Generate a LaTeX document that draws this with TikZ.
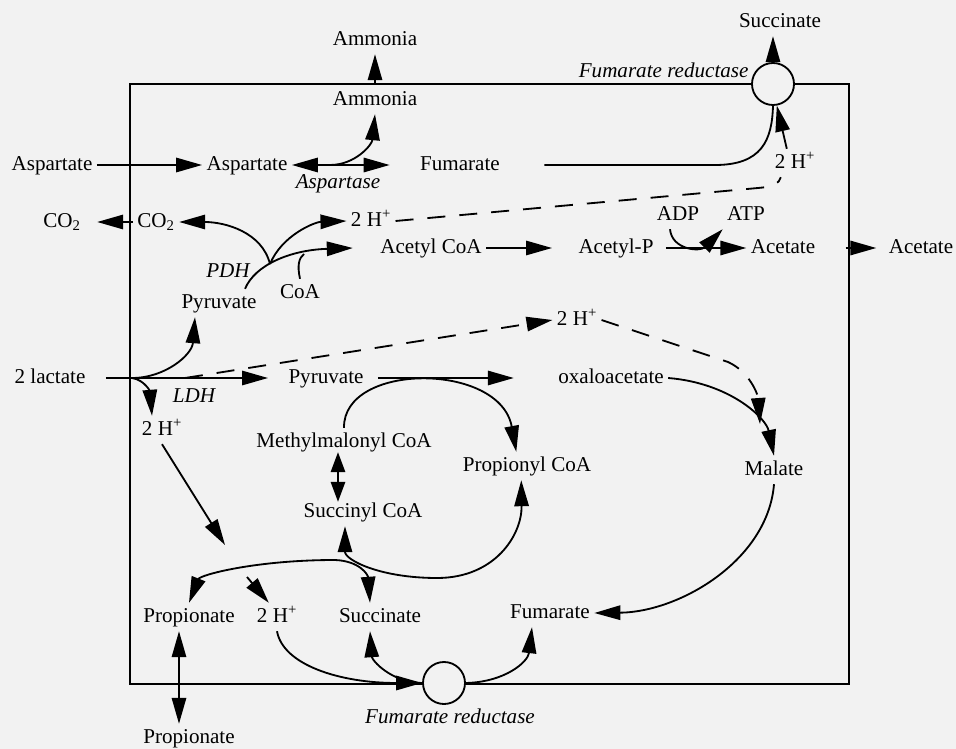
\documentclass[tikz,border=0pt]{standalone}
\usepackage{fontspec}
\setmainfont{Liberation Serif}
\usetikzlibrary{positioning,arrows.meta}

\begin{document}
\begin{tikzpicture}[
      x=0.025cm, y=-0.025cm,
      lbl/.style={inner sep=3pt, text height=10.5pt, text depth=3.3pt, font=\fontsize{15}{18}\selectfont},
      enz/.style={lbl, font=\fontsize{15}{18}\selectfont\itshape},
      link/.style={line width=1.3pt},
      arrow/.style={link, -{Triangle[length=6.5mm,width=3.6mm]}},
      both/.style={link, {Triangle[length=6.5mm,width=3.6mm]}-{Triangle[length=6.5mm,width=3.6mm]}},
      pair/.style={link, {Triangle[length=5mm,width=3.6mm]}-{Triangle[length=5mm,width=3.6mm]}},
      dashline/.style={dash pattern=on 0.45cm off 0.35cm},
      pore/.style={draw, circle, fill=black!5, line width=1.3pt, minimum size=1.05cm, inner sep=0pt}
    ]
      \fill[black!5] (0,0) rectangle (956,749);
      \useasboundingbox (0,0) rectangle (956,749);
      \draw[link] (130,84) coordinate (boxNW) rectangle (849,684) coordinate (boxSE);

      \node[lbl] (ammOut) at (375,40) {Ammonia};
      \node[lbl] (ammIn) at (375,100) {Ammonia};
      \node[lbl] (succOut) at (780,22) {Succinate};
      \node[pore] (frdTop) at (773,84) {};
      \node[enz,anchor=east] (frdTopLbl) at (753,72) {Fumarate reductase};
      \node[lbl] (aspOut) at (52,165) {Aspartate};
      \node[lbl] (aspIn) at (247,165) {Aspartate};
      \node[enz] (aspLbl) at (338,183) {Aspartase};
      \node[lbl] (fumTop) at (460,165) {Fumarate};
      \node[lbl] (hTop) at (795,163) {2 H\textsuperscript{+}};
      \node[lbl] (co2Out) at (62,222) {CO\textsubscript{2}};
      \node[lbl] (co2In) at (156,222) {CO\textsubscript{2}};
      \node[lbl] (hPdh) at (371,221) {2 H\textsuperscript{+}};
      \node[lbl] (acCoA) at (431,248) {Acetyl CoA};
      \node[enz] (pdhLbl) at (228,272) {PDH};
      \node[lbl] (pyrTop) at (219,303) {Pyruvate};
      \node[lbl] (coaIn) at (300,293) {CoA};
      \node[lbl] (acP) at (616,248) {Acetyl-P};
      \node[lbl] (adp) at (678,215) {ADP};
      \node[lbl] (atp) at (746,215) {ATP};
      \node[lbl] (acIn) at (783,248) {Acetate};
      \node[lbl] (acOut) at (921,248) {Acetate};
      \node[lbl] (lac) at (50,378) {2 lactate};
      \node[enz] (ldhLbl) at (194,397) {LDH};
      \node[lbl] (hLac) at (162,430) {2 H\textsuperscript{+}};
      \node[lbl] (pyrMid) at (326,378) {Pyruvate};
      \node[lbl] (hMid) at (577,320) {2 H\textsuperscript{+}};
      \node[lbl] (oxa) at (611,378) {oxaloacetate};
      \node[lbl] (mmCoA) at (344,442) {Methylmalonyl CoA};
      \node[lbl] (propCoA) at (527,466) {Propionyl CoA};
      \node[lbl] (malate) at (774,470) {Malate};
      \node[lbl] (succCoA) at (363,512) {Succinyl CoA};
      \node[lbl] (propIn) at (189,617) {Propionate};
      \node[lbl] (hBot) at (277,617) {2 H\textsuperscript{+}};
      \node[lbl] (succBot) at (380,617) {Succinate};
      \node[lbl] (fumBot) at (550,613) {Fumarate};
      \node[pore] (frdBot) at (444,683) {};
      \node[enz] (frdBotLbl) at (450,718) {Fumarate reductase};
      \node[lbl] (propOut) at (189,738) {Propionate};

      \coordinate (aspJ) at (330,165);
      \coordinate (pdhJ) at (270,264);
      \coordinate (coaJ) at (304,254);
      \coordinate (lacJ) at (132,378);
      \coordinate (ldhJ) at (185,378);
      \coordinate (hLacTip) at (225,545);
      \coordinate (oxaJ) at (760,424);
      \coordinate (hBotFrom) at (247,577);

      \draw[arrow] (ammIn.north |- boxNW) -- (ammOut);
      \draw[arrow] (frdTop.north) -- (frdTop.north |- succOut.south);
      \draw[arrow] (aspOut) -- (aspIn);
      \draw[both] (aspIn) -- ([xshift=-0.65cm]fumTop.west);
      \draw[arrow] (aspJ) .. controls (355,165) and (372,145) .. (ammIn.south);
      \draw[link] ([xshift=1cm]fumTop.east) -- (715,165) .. controls (762,165) and (772,140) .. (frdTop.south);
      \draw[arrow] (hTop.120) -- (frdTop.-80);
      \draw[link,dashline] (hPdh.east) -- (758,188) .. controls (772,187) and (780,183) .. (hTop.-135);

      \draw[arrow,shorten >=0.3cm] (co2In) -- (co2Out);
      \draw[arrow] (pdhJ) .. controls (262,232) and (225,222) .. (co2In.east);
      \draw[arrow] (pdhJ) .. controls (282,235) and (315,222) .. (hPdh.west);
      \draw[arrow] ([xshift=0.65cm]pyrTop.north) .. controls (255,265) and (290,250) .. ([xshift=-0.575cm]acCoA.west);
      \draw[link] (coaIn.north) .. controls (297,265) and (299,258) .. (coaJ);
      \draw[arrow,shorten >=0.55cm] (acCoA) -- (acP);
      \draw[arrow,shorten <=0.2cm] (acP) -- (acIn);
      \draw[arrow] ([xshift=-0.2cm]adp.south) .. controls (672,250) and (700,252) .. (atp.south west);
      \draw[arrow,shorten <=0.65cm,shorten >=0.2cm] (acIn) -- (acOut);

      \draw[arrow,shorten <=0.4cm,shorten >=0.4cm] (lac) -- (pyrMid);
      \draw[arrow] (lacJ) .. controls (165,378) and (192,355) .. ([xshift=-0.6cm]pyrTop.south);
      \draw[arrow] (lacJ) .. controls (145,380) and (150,392) .. ([xshift=-0.25cm]hLac.north);
      \draw[arrow,dashline] (ldhJ) -- (hMid.west);
      \draw[arrow] (hLac.south) -- (hLacTip);
      \draw[arrow,shorten <=0.25cm,shorten >=1cm] (pyrMid) -- (oxa);
      \draw[arrow,dashline] (hMid.east) -- (728,362) .. controls (750,372) and (758,395) .. (oxaJ);
      \draw[arrow] (oxa.east) .. controls (730,383) and (766,418) .. (malate.north);

      \draw[arrow] (mmCoA.north) .. controls (343,362) and (500,362) .. (propCoA.127);
      \draw[pair,shorten <=-0.1cm,shorten >=-0.1cm] ([xshift=-0.15cm]mmCoA.south) -- ([xshift=-0.15cm]mmCoA.south |- succCoA.north);
      \draw[both] ([xshift=-0.45cm]succCoA.south) .. controls (345,560) and (380,578) .. (437,578) .. controls (495,578) and (522,535) .. (propCoA.-112);
      \draw[both] ([xshift=-0.25cm]succBot.north) .. controls (368,575) and (360,561) .. (335,560) .. controls (255,560) and (200,575) .. (propIn.north);
      \draw[arrow] (hBotFrom) -- (hBot.120);
      \draw[arrow] (hBot.south) .. controls (283,665) and (340,683) .. (frdBot.west);
      \draw[arrow] (frdBot.west) .. controls (390,682) and (372,660) .. ([xshift=-0.25cm]succBot.south);
      \draw[arrow] (frdBot.east) .. controls (505,682) and (528,662) .. ([xshift=-0.45cm]fumBot.south);
      \draw[arrow] (malate.south) .. controls (768,560) and (680,612) .. (fumBot.east);
      \draw[both] ([xshift=-0.25cm]propIn.south) -- ([xshift=-0.25cm]propIn.south |- propOut.north);
    \end{tikzpicture}
\end{document}
